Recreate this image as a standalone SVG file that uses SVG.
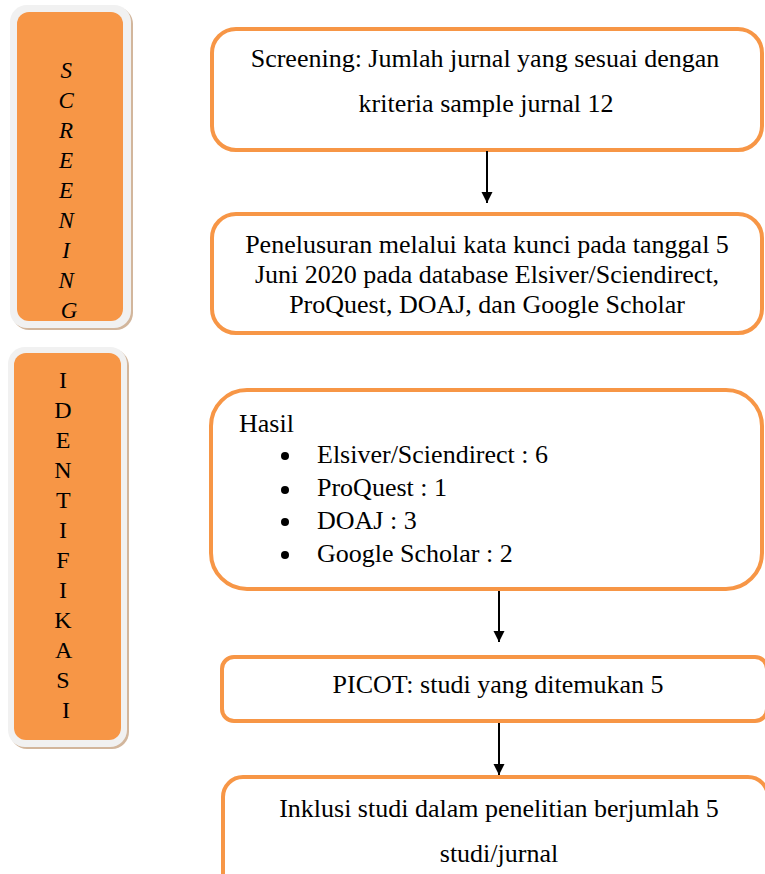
<svg xmlns="http://www.w3.org/2000/svg" width="765" height="874" viewBox="0 0 765 874">
  <defs>
    <style>
      .box { fill: #ffffff; stroke: #F79646; stroke-width: 4; }
      .side-shadow { fill: #d2b69c; }
      .side-outer { fill: #f1f1f1; }
      .side-inner { fill: #F79646; }
      .t { font-family: "Liberation Serif", "Times New Roman", serif; font-size: 26px; fill: #000000; }
      .s { font-family: "Liberation Serif", "Times New Roman", serif; font-size: 23px; fill: #000000; text-anchor: middle; }
      .c { text-anchor: middle; }
      .it { font-style: italic; }
      .conn { stroke: #000000; stroke-width: 2; fill: none; }
    </style>
    <marker id="arrow" viewBox="0 0 10 10" refX="10" refY="5" markerWidth="5.5" markerHeight="6" markerUnits="strokeWidth" orient="auto">
      <path d="M0,0 L10,5 L0,10 z" fill="#000000"/>
    </marker>
  </defs>

  <g id="side-screening">
    <rect class="side-shadow" x="12" y="7" width="121" height="323" rx="17"/>
    <rect class="side-outer" x="10" y="5" width="121" height="323" rx="17"/>
    <rect class="side-inner" x="17" y="12" width="106" height="309" rx="12"/>
    <text class="s it">
      <tspan x="69" y="78">S</tspan>
      <tspan x="69" y="108">C</tspan>
      <tspan x="69" y="138">R</tspan>
      <tspan x="69" y="168">E</tspan>
      <tspan x="69" y="198">E</tspan>
      <tspan x="69" y="228">N</tspan>
      <tspan x="69" y="258">I</tspan>
      <tspan x="69" y="288">N</tspan>
      <tspan x="69" y="318">G</tspan>
    </text>
  </g>

  <g id="side-identifikasi">
    <rect class="side-shadow" x="10" y="349" width="119" height="400" rx="17"/>
    <rect class="side-outer" x="8" y="347" width="119" height="400" rx="17"/>
    <rect class="side-inner" x="14" y="353" width="107" height="387" rx="12"/>
    <text class="s" style="font-size:24px">
      <tspan x="66" y="388">I</tspan>
      <tspan x="66" y="418">D</tspan>
      <tspan x="66" y="448">E</tspan>
      <tspan x="66" y="478">N</tspan>
      <tspan x="66" y="508">T</tspan>
      <tspan x="66" y="538">I</tspan>
      <tspan x="66" y="568">F</tspan>
      <tspan x="66" y="598">I</tspan>
      <tspan x="66" y="628">K</tspan>
      <tspan x="66" y="658">A</tspan>
      <tspan x="66" y="688">S</tspan>
      <tspan x="66" y="718">I</tspan>
    </text>
  </g>

  <g id="node-screening">
    <rect class="box" x="212" y="29" width="550" height="121" rx="24"/>
    <text class="t c" x="485" y="67">Screening:  Jumlah jurnal yang sesuai dengan</text>
    <text class="t c" x="486" y="112">kriteria sample jurnal 12</text>
  </g>

  <g id="node-penelusuran">
    <rect class="box" x="212" y="214" width="550" height="119" rx="24"/>
    <text class="t c" x="487" y="253">Penelusuran melalui kata kunci pada tanggal 5</text>
    <text class="t c" x="487" y="283">Juni 2020 pada database Elsiver/Sciendirect,</text>
    <text class="t c" x="487" y="313">ProQuest, DOAJ, dan Google Scholar</text>
  </g>

  <g id="node-hasil">
    <rect class="box" x="211" y="390" width="551" height="199" rx="36"/>
    <text class="t" x="239" y="432">Hasil</text>
    <circle cx="285" cy="456" r="4" fill="#000000"/>
    <circle cx="285" cy="490" r="4" fill="#000000"/>
    <circle cx="285" cy="522" r="4" fill="#000000"/>
    <circle cx="285" cy="555" r="4" fill="#000000"/>
    <text class="t" x="317" y="463">Elsiver/Sciendirect : 6</text>
    <text class="t" x="317" y="496">ProQuest : 1</text>
    <text class="t" x="317" y="529">DOAJ : 3</text>
    <text class="t" x="317" y="562">Google Scholar : 2</text>
  </g>

  <g id="node-picot">
    <rect class="box" x="222" y="657" width="545" height="64" rx="12"/>
    <text class="t c" x="498" y="693">PICOT: studi yang ditemukan 5</text>
  </g>

  <g id="node-inklusi">
    <rect class="box" x="223" y="777" width="545" height="130" rx="20"/>
    <text class="t c" x="499" y="817">Inklusi studi dalam penelitian berjumlah 5</text>
    <text class="t c" x="499" y="862">studi/jurnal</text>
  </g>

  <g id="connectors">
    <line class="conn" x1="487" y1="151" x2="487" y2="203" marker-end="url(#arrow)"/>
    <line class="conn" x1="499" y1="591" x2="499" y2="642" marker-end="url(#arrow)"/>
    <line class="conn" x1="499" y1="723" x2="499" y2="775" marker-end="url(#arrow)"/>
  </g>
</svg>
